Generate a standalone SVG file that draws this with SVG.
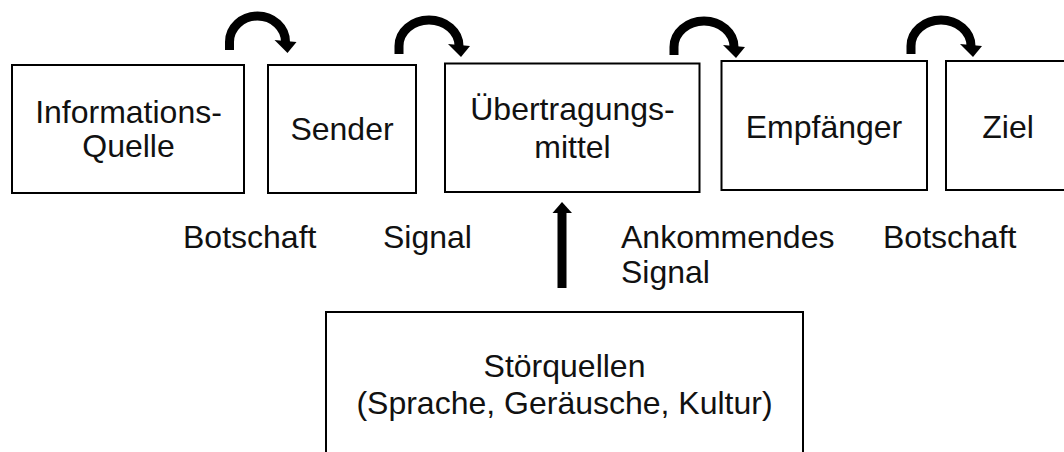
<svg xmlns="http://www.w3.org/2000/svg" width="1064" height="452" viewBox="0 0 1064 452">
  <style>
    .box { fill: #ffffff; stroke: #000000; stroke-width: 2; }
    .t { font-family: "Liberation Sans", Arial, sans-serif; font-size: 32px; fill: #111111; }
    .c { text-anchor: middle; }
    .arc { fill: none; stroke: #000000; stroke-width: 9; }
    .head { fill: #000000; }
  </style>
  <rect width="1064" height="452" fill="#ffffff"/>

  <g id="node-informationsquelle">
    <rect class="box" x="12" y="65" width="232" height="128"/>
    <text class="t c" x="128.5" y="123">Informations-</text>
    <text class="t c" x="128.5" y="157">Quelle</text>
  </g>
  <g id="node-sender">
    <rect class="box" x="268" y="65" width="148" height="128"/>
    <text class="t c" x="342" y="140">Sender</text>
  </g>
  <g id="node-uebertragungsmittel">
    <rect class="box" x="445" y="63.5" width="254.5" height="128.5"/>
    <text class="t c" x="572.5" y="120">Übertragungs-</text>
    <text class="t c" x="572.5" y="158">mittel</text>
  </g>
  <g id="node-empfaenger">
    <rect class="box" x="721.5" y="61" width="205.5" height="129"/>
    <text class="t c" x="824" y="138">Empfänger</text>
  </g>
  <g id="node-ziel">
    <rect class="box" x="946" y="61" width="140" height="129"/>
    <text class="t c" x="1008" y="138">Ziel</text>
  </g>
  <g id="node-stoerquellen">
    <rect class="box" x="326" y="312" width="477" height="200"/>
    <text class="t c" x="564.5" y="377">Störquellen</text>
    <text class="t c" x="564.5" y="414">(Sprache, Geräusche, Kultur)</text>
  </g>

  <g id="labels">
    <text class="t" x="183" y="248">Botschaft</text>
    <text class="t" x="383" y="248">Signal</text>
    <text class="t" x="621" y="248">Ankommendes</text>
    <text class="t" x="621" y="283">Signal</text>
    <text class="t" x="883" y="248">Botschaft</text>
  </g>

  <g id="connectors">
    <g transform="translate(229.5,50)">
      <path class="arc" d="M0,0 V-8 A28,26 0 0 1 56,-8"/>
      <polygon class="head" points="45,-10 67,-8 58,3"/>
    </g>
    <g transform="translate(399,54)">
      <path class="arc" d="M0,0 V-8 A30,26 0 0 1 60,-8"/>
      <polygon class="head" points="49,-10 71,-8 62,3"/>
    </g>
    <g transform="translate(674,55)">
      <path class="arc" d="M0,0 V-8 A30,26 0 0 1 60,-8"/>
      <polygon class="head" points="49,-10 71,-8 62,3"/>
    </g>
    <g transform="translate(911,54)">
      <path class="arc" d="M0,0 V-8 A30,26 0 0 1 60,-8"/>
      <polygon class="head" points="49,-10 71,-8 62,3"/>
    </g>
    <g id="arrow-stoer">
      <rect x="557.5" y="212" width="9" height="76" fill="#000000"/>
      <polygon class="head" points="552.5,213 572,213 562,202"/>
    </g>
  </g>
</svg>
